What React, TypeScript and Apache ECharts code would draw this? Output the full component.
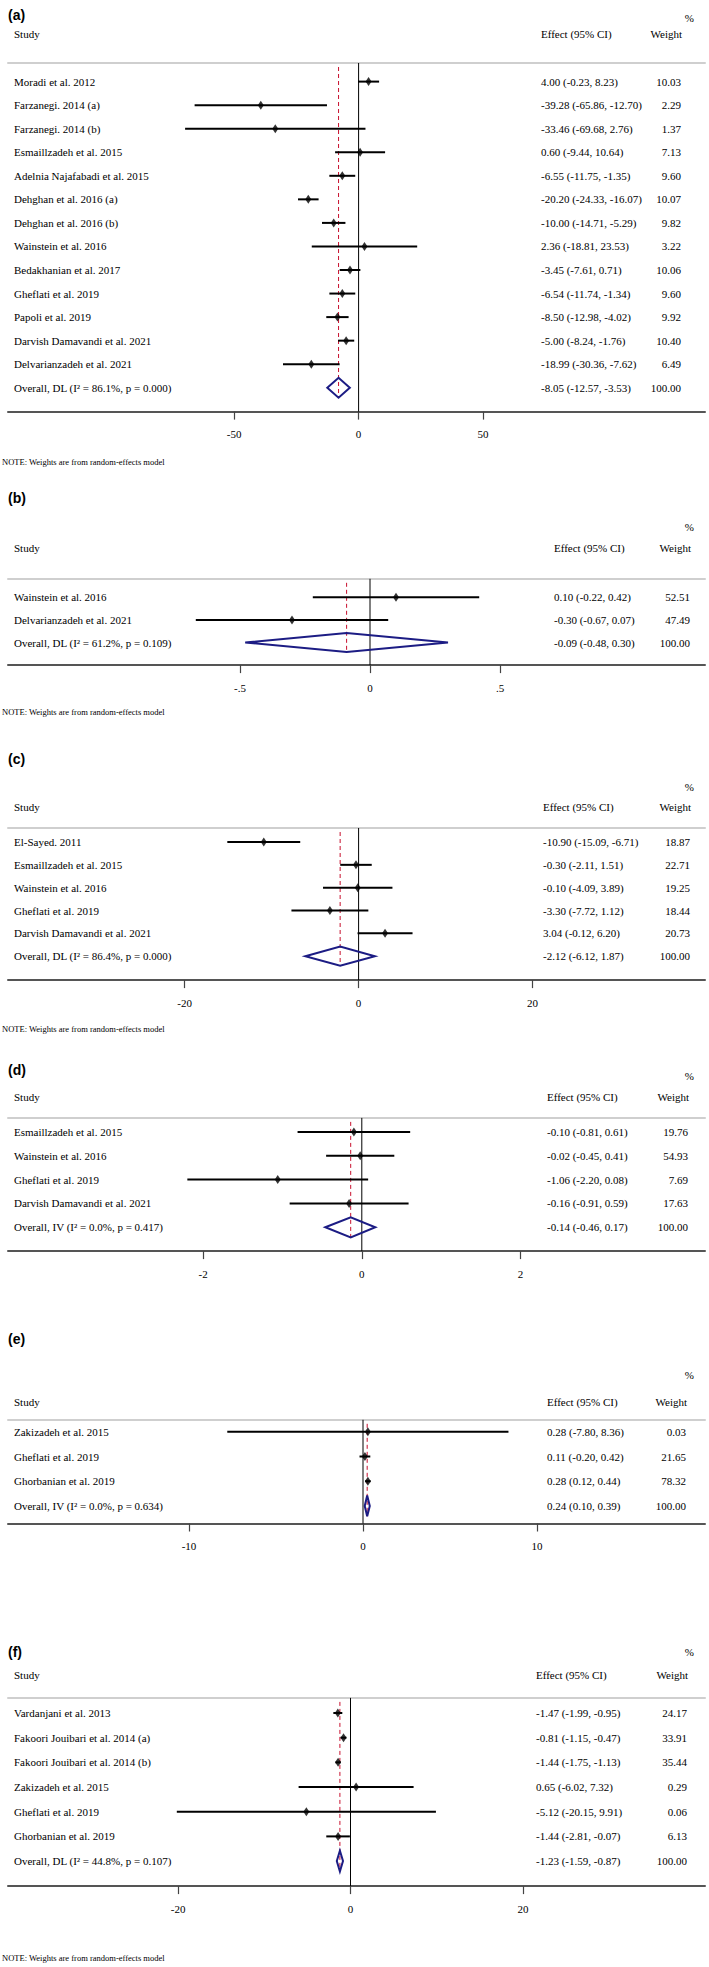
import React, { useEffect, useRef } from "react";
import * as echarts from "echarts";

// ---------------- DATA ----------------
// (a)
const studiesA = [
  "Moradi et al. 2012",
  "Farzanegi. 2014 (a)",
  "Farzanegi. 2014 (b)",
  "Esmaillzadeh et al. 2015",
  "Adelnia Najafabadi et al. 2015",
  "Dehghan et al. 2016 (a)",
  "Dehghan et al. 2016 (b)",
  "Wainstein et al. 2016",
  "Bedakhanian et al. 2017",
  "Gheflati et al. 2019",
  "Papoli et al. 2019",
  "Darvish Damavandi et al. 2021",
  "Delvarianzadeh et al. 2021",
];
const effectA = [4.0, -39.28, -33.46, 0.6, -6.55, -20.2, -10.0, 2.36, -3.45, -6.54, -8.5, -5.0, -18.99];
const lowerA = [-0.23, -65.86, -69.68, -9.44, -11.75, -24.33, -14.71, -18.81, -7.61, -11.74, -12.98, -8.24, -30.36];
const upperA = [8.23, -12.7, 2.76, 10.64, -1.35, -16.07, -5.29, 23.53, 0.71, -1.34, -4.02, -1.76, -7.62];
const weightA = [10.03, 2.29, 1.37, 7.13, 9.6, 10.07, 9.82, 3.22, 10.06, 9.6, 9.92, 10.4, 6.49];
const overallLabelA = "Overall, DL (I² = 86.1%, p = 0.000)";
const overallA = [-8.05, -12.57, -3.53];
const ticksA = [-50, 0, 50];

// (b)
const studiesB = ["Wainstein et al. 2016", "Delvarianzadeh et al. 2021"];
const effectB = [0.1, -0.3];
const lowerB = [-0.22, -0.67];
const upperB = [0.42, 0.07];
const weightB = [52.51, 47.49];
const overallLabelB = "Overall, DL (I² = 61.2%, p = 0.109)";
const overallB = [-0.09, -0.48, 0.3];
const ticksB = [-0.5, 0, 0.5];

// (c)
const studiesC = [
  "El-Sayed. 2011",
  "Esmaillzadeh et al. 2015",
  "Wainstein et al. 2016",
  "Gheflati et al. 2019",
  "Darvish Damavandi et al. 2021",
];
const effectC = [-10.9, -0.3, -0.1, -3.3, 3.04];
const lowerC = [-15.09, -2.11, -4.09, -7.72, -0.12];
const upperC = [-6.71, 1.51, 3.89, 1.12, 6.2];
const weightC = [18.87, 22.71, 19.25, 18.44, 20.73];
const overallLabelC = "Overall, DL (I² = 86.4%, p = 0.000)";
const overallC = [-2.12, -6.12, 1.87];
const ticksC = [-20, 0, 20];

// (d)
const studiesD = [
  "Esmaillzadeh et al. 2015",
  "Wainstein et al. 2016",
  "Gheflati et al. 2019",
  "Darvish Damavandi et al. 2021",
];
const effectD = [-0.1, -0.02, -1.06, -0.16];
const lowerD = [-0.81, -0.45, -2.2, -0.91];
const upperD = [0.61, 0.41, 0.08, 0.59];
const weightD = [19.76, 54.93, 7.69, 17.63];
const overallLabelD = "Overall, IV (I² = 0.0%, p = 0.417)";
const overallD = [-0.14, -0.46, 0.17];
const ticksD = [-2, 0, 2];

// (e)
const studiesE = ["Zakizadeh et al. 2015", "Gheflati et al. 2019", "Ghorbanian et al. 2019"];
const effectE = [0.28, 0.11, 0.28];
const lowerE = [-7.8, -0.2, 0.12];
const upperE = [8.36, 0.42, 0.44];
const weightE = [0.03, 21.65, 78.32];
const overallLabelE = "Overall, IV (I² = 0.0%, p = 0.634)";
const overallE = [0.24, 0.1, 0.39];
const ticksE = [-10, 0, 10];

// (f)
const studiesF = [
  "Vardanjani et al. 2013",
  "Fakoori Jouibari et al. 2014 (a)",
  "Fakoori Jouibari et al. 2014 (b)",
  "Zakizadeh et al. 2015",
  "Gheflati et al. 2019",
  "Ghorbanian et al. 2019",
];
const effectF = [-1.47, -0.81, -1.44, 0.65, -5.12, -1.44];
const lowerF = [-1.99, -1.15, -1.75, -6.02, -20.15, -2.81];
const upperF = [-0.95, -0.47, -1.13, 7.32, 9.91, -0.07];
const weightF = [24.17, 33.91, 35.44, 0.29, 0.06, 6.13];
const overallLabelF = "Overall, DL (I² = 44.8%, p = 0.107)";
const overallF = [-1.23, -1.59, -0.87];
const ticksF = [-20, 0, 20];

const overallWeight = 100.0;
const noteText = "NOTE: Weights are from random-effects model";

const panels = [
  { tag: "(a)", studies: studiesA, effect: effectA, lower: lowerA, upper: upperA, weight: weightA, overallLabel: overallLabelA, overall: overallA, ticks: ticksA, note: true },
  { tag: "(b)", studies: studiesB, effect: effectB, lower: lowerB, upper: upperB, weight: weightB, overallLabel: overallLabelB, overall: overallB, ticks: ticksB, note: true },
  { tag: "(c)", studies: studiesC, effect: effectC, lower: lowerC, upper: upperC, weight: weightC, overallLabel: overallLabelC, overall: overallC, ticks: ticksC, note: true },
  { tag: "(d)", studies: studiesD, effect: effectD, lower: lowerD, upper: upperD, weight: weightD, overallLabel: overallLabelD, overall: overallD, ticks: ticksD, note: false },
  { tag: "(e)", studies: studiesE, effect: effectE, lower: lowerE, upper: upperE, weight: weightE, overallLabel: overallLabelE, overall: overallE, ticks: ticksE, note: false },
  { tag: "(f)", studies: studiesF, effect: effectF, lower: lowerF, upper: upperF, weight: weightF, overallLabel: overallLabelF, overall: overallF, ticks: ticksF, note: true },
];

// ---------------- LAYOUT ----------------
const GL = 8;
const GR = 705;
// lineY: grey rule under the header; row1: first study row; sp: row pitch; axisY: x-axis line
const layouts = [
  { tagY: 15, pctY: 17.6, headY: 33.9, lineY: 63, row1: 81.6, sp: 23.55, axisY: 411.6, noteY: 461.8, x0: 358.6, ppu: 2.49, effX: 541, wRight: 681 },
  { tagY: 498.2, pctY: 527, headY: 548.4, lineY: 578.8, row1: 597.3, sp: 22.6, axisY: 665.1, noteY: 711.5, x0: 370, ppu: 260, effX: 554, wRight: 690 },
  { tagY: 759.2, pctY: 786.8, headY: 806.9, lineY: 828, row1: 842, sp: 22.84, axisY: 980.1, noteY: 1029, x0: 358.6, ppu: 8.7, effX: 543, wRight: 690 },
  { tagY: 1070.4, pctY: 1075.5, headY: 1096.8, lineY: 1117.9, row1: 1131.9, sp: 23.85, axisY: 1251.1, noteY: 0, x0: 361.8, ppu: 79.3, effX: 547, wRight: 688 },
  { tagY: 1339, pctY: 1375.4, headY: 1401.7, lineY: 1419.8, row1: 1431.8, sp: 24.7, axisY: 1523.5, noteY: 0, x0: 363, ppu: 17.4, effX: 547, wRight: 686 },
  { tagY: 1651.5, pctY: 1651.5, headY: 1675.3, lineY: 1697.9, row1: 1713, sp: 24.68, axisY: 1886.1, noteY: 1957.6, x0: 350.5, ppu: 8.62, effX: 536, wRight: 687 },
];

const SERIF = '"Liberation Serif", "Times New Roman", serif';
const SANS = '"Liberation Sans", Arial, sans-serif';
const FS = 11;

function fmtTick(v: number) {
  return String(v).replace(/^(-?)0\./, "$1.");
}

function buildOption() {
  const grid: any[] = [];
  const xAxis: any[] = [];
  const yAxis: any[] = [];
  const series: any[] = [];
  const graphic: any[] = [];

  panels.forEach((p, i) => {
    const L = layouts[i];
    const n = p.studies.length + 1;
    const names = [...p.studies, p.overallLabel];
    const effs = [...p.effect, p.overall[0]];
    const lows = [...p.lower, p.overall[1]];
    const highs = [...p.upper, p.overall[2]];
    const wts = [...p.weight, overallWeight];
    const effText = effs.map((e, k) => `${e.toFixed(2)} (${lows[k].toFixed(2)}, ${highs[k].toFixed(2)})`);
    const wText = wts.map((w) => w.toFixed(2));
    const rows = names.map((_, k) => k + 1);

    const padTop = (L.row1 - L.lineY) / L.sp;
    const padBot = (L.axisY - (L.row1 + (n - 1) * L.sp)) / L.sp;
    const yMin = 1 - padTop;
    const yMax = n + padBot;
    const height = L.axisY - L.lineY;
    const xMin = -(L.x0 - GL) / L.ppu;
    const xMax = (GR - L.x0) / L.ppu;

    grid.push({ left: GL, width: GR - GL, top: L.lineY, height, containLabel: false });

    xAxis.push({
      gridIndex: i,
      type: "value",
      min: xMin,
      max: xMax,
      position: "bottom",
      axisLine: { show: true, onZero: false, lineStyle: { color: "#555", width: 2 } },
      axisTick: { show: true, customValues: p.ticks, length: 8, lineStyle: { color: "#444", width: 1.2 } },
      axisLabel: { show: true, customValues: p.ticks, formatter: fmtTick, margin: 17, fontFamily: SERIF, fontSize: FS, color: "#000" },
      splitLine: { show: false },
    });
    xAxis.push({
      gridIndex: i,
      type: "value",
      min: xMin,
      max: xMax,
      position: "top",
      axisLine: { show: true, onZero: false, lineStyle: { color: "#cfcfcf", width: 2 } },
      axisTick: { show: false },
      axisLabel: { show: false },
      splitLine: { show: false },
    });

    const effW = L.wRight - L.effX - 40;
    yAxis.push({
      gridIndex: i,
      type: "value",
      inverse: true,
      min: yMin,
      max: yMax,
      position: "left",
      axisLine: { show: false, onZero: false },
      axisTick: { show: false },
      splitLine: { show: false },
      axisLabel: {
        show: true,
        inside: true,
        customValues: rows,
        margin: 6,
        formatter: (v: number) => names[Math.round(v) - 1] ?? "",
        fontFamily: SERIF,
        fontSize: FS,
        color: "#000",
      },
    });
    yAxis.push({
      gridIndex: i,
      type: "value",
      inverse: true,
      min: yMin,
      max: yMax,
      position: "right",
      axisLine: { show: false, onZero: false },
      axisTick: { show: false },
      splitLine: { show: false },
      axisLabel: {
        show: true,
        inside: true,
        customValues: rows,
        margin: GR - L.wRight,
        formatter: (v: number) => {
          const k = Math.round(v) - 1;
          return `{e|${effText[k] ?? ""}}{w|${wText[k] ?? ""}}`;
        },
        rich: {
          e: { width: effW, align: "left", fontFamily: SERIF, fontSize: FS, color: "#000" },
          w: { width: 40, align: "right", fontFamily: SERIF, fontSize: FS, color: "#000" },
        },
      },
    });

    const xi = i * 2;
    const yi = i * 2;

    // reference lines: null line at 0 and dashed line at overall effect
    series.push({
      type: "custom",
      xAxisIndex: xi,
      yAxisIndex: yi,
      z: 1,
      silent: true,
      data: [[p.overall[0], n]],
      encode: { x: 0, y: 1 },
      renderItem: (params: any, api: any) => {
        const eff = api.value(0);
        const row = api.value(1);
        const z0 = api.coord([0, yMin]);
        const z1 = api.coord([0, yMax]);
        const unit = api.size([0, 1])[1];
        const d0 = api.coord([eff, yMin]);
        const d1 = api.coord([eff, row]);
        return {
          type: "group",
          children: [
            { type: "line", shape: { x1: z0[0], y1: z0[1], x2: z1[0], y2: z1[1] }, style: { stroke: "#000", lineWidth: 1 } },
            {
              type: "line",
              shape: { x1: d0[0], y1: d0[1] + 4, x2: d1[0], y2: d1[1] + unit * 0.42 },
              style: { stroke: "#c8102e", lineWidth: 1, lineDash: [4, 3] },
            },
          ],
        };
      },
    });

    // CI lines
    series.push({
      type: "custom",
      xAxisIndex: xi,
      yAxisIndex: yi,
      z: 2,
      silent: true,
      data: p.studies.map((_, k) => [k + 1, p.lower[k], p.upper[k]]),
      encode: { x: [1, 2], y: 0 },
      renderItem: (params: any, api: any) => {
        const row = api.value(0);
        const a = api.coord([api.value(1), row]);
        const b = api.coord([api.value(2), row]);
        return { type: "line", shape: { x1: a[0], y1: a[1], x2: b[0], y2: b[1] }, style: { stroke: "#000", lineWidth: 2 } };
      },
    });

    // point estimates
    series.push({
      type: "scatter",
      xAxisIndex: xi,
      yAxisIndex: yi,
      z: 3,
      silent: true,
      symbol: "diamond",
      symbolSize: [6, 9],
      itemStyle: { color: "#000" },
      data: p.effect.map((e, k) => [e, k + 1]),
    });

    // overall diamond
    series.push({
      type: "custom",
      xAxisIndex: xi,
      yAxisIndex: yi,
      z: 4,
      silent: true,
      data: [[n, p.overall[0], p.overall[1], p.overall[2]]],
      encode: { x: [1, 2, 3], y: 0 },
      renderItem: (params: any, api: any) => {
        const row = api.value(0);
        const c = api.coord([api.value(1), row]);
        const l = api.coord([api.value(2), row]);
        const r = api.coord([api.value(3), row]);
        const h = api.size([0, 1])[1] * 0.42;
        return {
          type: "polygon",
          shape: { points: [[l[0], c[1]], [c[0], c[1] - h], [r[0], c[1]], [c[0], c[1] + h]] },
          style: { stroke: "#1c1c84", lineWidth: 2, fill: "transparent" },
        };
      },
    });

    // headers
    graphic.push(
      { type: "text", x: 8, y: L.tagY, style: { text: p.tag, fontFamily: SANS, fontWeight: "bold", fontSize: 14, fill: "#000", align: "left", verticalAlign: "middle" } },
      { type: "text", x: 694, y: L.pctY, style: { text: "%", fontFamily: SERIF, fontSize: FS, fill: "#000", align: "right", verticalAlign: "middle" } },
      { type: "text", x: 14, y: L.headY, style: { text: "Study", fontFamily: SERIF, fontSize: FS, fill: "#000", align: "left", verticalAlign: "middle" } },
      { type: "text", x: L.effX, y: L.headY, style: { text: "Effect (95% CI)", fontFamily: SERIF, fontSize: FS, fill: "#000", align: "left", verticalAlign: "middle" } },
      { type: "text", x: L.wRight + 1, y: L.headY, style: { text: "Weight", fontFamily: SERIF, fontSize: FS, fill: "#000", align: "right", verticalAlign: "middle" } }
    );
    if (p.note) {
      graphic.push({ type: "text", x: 2, y: L.noteY, style: { text: noteText, fontFamily: SERIF, fontSize: 8.5, fill: "#000", align: "left", verticalAlign: "middle" } });
    }
  });

  return {
    animation: false,
    backgroundColor: "#ffffff",
    grid,
    xAxis,
    yAxis,
    series,
    graphic,
  };
}

export default function App() {
  const ref = useRef<HTMLDivElement>(null);
  useEffect(() => {
    if (!ref.current) return;
    const chart = echarts.init(ref.current, null, { renderer: "svg" });
    chart.setOption(buildOption() as any);
    return () => {
      chart.dispose();
    };
  }, []);
  return (
    <div
      ref={ref}
      style={{ position: "absolute", left: 0, top: 0, width: 709, height: 1967, background: "#fff" }}
    />
  );
}
